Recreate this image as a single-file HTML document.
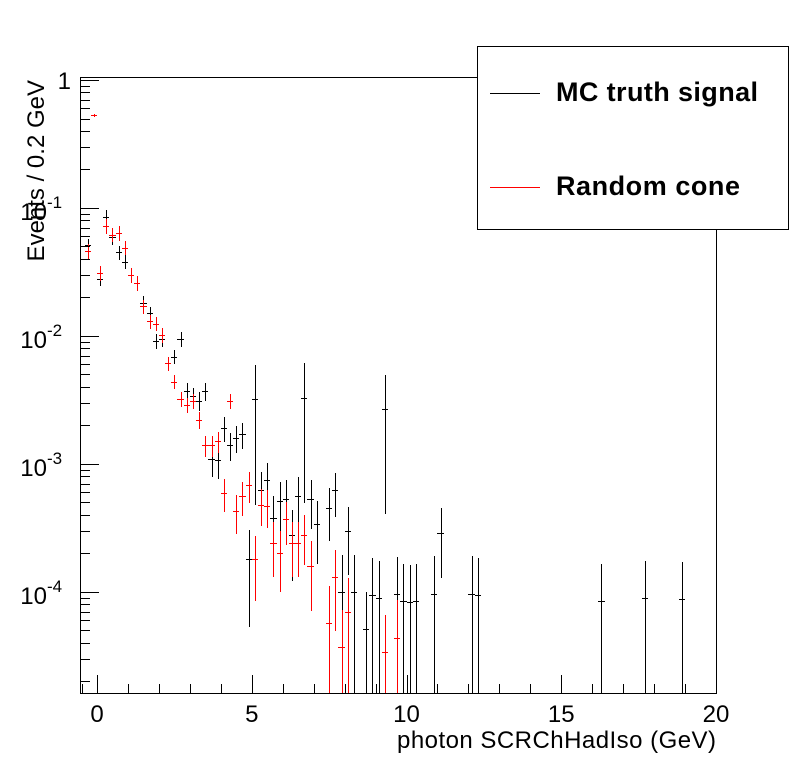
<!DOCTYPE html>
<html><head><meta charset="utf-8"><style>
html,body{margin:0;padding:0;background:#fff;}
svg{display:block;font-family:"Liberation Sans",Arial,sans-serif;}
</style></head><body>
<svg id="chart" width="796" height="772" viewBox="0 0 796 772" shape-rendering="crispEdges">
<rect x="0" y="0" width="796" height="772" fill="#fff"/>
<g id="marks"></g>
<g id="axes"></g>
<g>
<rect x="477.5" y="46.5" width="311" height="183" fill="#fff" stroke="#000" stroke-width="1"/>
<line x1="490" y1="93.5" x2="540" y2="93.5" stroke="#000" stroke-width="1"/>
<text x="556" y="101" font-size="27" font-weight="bold" textLength="202">MC truth signal</text>
<line x1="490" y1="187.5" x2="540" y2="187.5" stroke="#f00" stroke-width="1"/>
<text x="556" y="195" font-size="27" font-weight="bold" textLength="184">Random cone</text>
</g>
<text x="716" y="748" font-size="24" text-anchor="end" textLength="319">photon SCRChHadIso (GeV)</text>
<text transform="translate(44,80) rotate(-90)" font-size="24" text-anchor="end">Events / 0.2 GeV</text>
</svg>
<script>
const mcX = [-0.3,-0.1,0.1,0.3,0.5,0.7,0.9,1.1,1.3,1.5,1.7,1.9,2.1,2.3,2.5,2.7,2.9,3.1,3.3,3.5,3.7,3.9,4.1,4.3,4.5,4.7,4.9,5.1,5.3,5.5,5.7,5.9,6.1,6.3,6.5,6.7,6.9,7.1,7.5,7.7,7.9,8.1,8.3,8.7,8.9,9.1,9.3,9.7,9.9,10.1,10.3,10.9,11.1,12.1,12.3,16.3,17.7,18.9];
const mcY = [0.051,0.53,0.028,0.085,0.059,0.045,0.038,0.030,0.026,0.018,0.015,0.0091,0.0095,0.0061,0.0069,0.0095,0.0037,0.0034,0.0031,0.0037,0.0011,0.00107,0.0019,0.0014,0.0016,0.0017,0.00018,0.0032,0.00063,0.00075,0.00038,0.00051,0.00053,0.00028,0.00056,0.0033,0.00053,0.00034,0.00045,0.00062,0.0001,0.0003,0.0001,0.000051,0.000095,0.000089,0.0027,0.000096,0.000085,0.000083,0.000085,0.000097,0.00029,0.000097,0.000095,0.000085,0.000089,0.000088];
const rcX = [-0.3,-0.1,0.1,0.3,0.5,0.7,0.9,1.1,1.3,1.5,1.7,1.9,2.1,2.3,2.5,2.7,2.9,3.1,3.3,3.5,3.7,3.9,4.1,4.3,4.5,4.7,4.9,5.1,5.3,5.5,5.7,5.9,6.1,6.3,6.5,6.7,6.9,7.5,7.7,7.9,8.1,9.3,9.7];
const rcY = [0.046,0.53,0.031,0.072,0.062,0.064,0.049,0.030,0.026,0.017,0.013,0.0125,0.0102,0.0061,0.0044,0.0032,0.0029,0.0031,0.0022,0.0014,0.0014,0.0015,0.00059,0.0031,0.00043,0.00056,0.00068,0.00018,0.00048,0.00047,0.00024,0.00020,0.00037,0.00024,0.00024,0.00028,0.00016,0.000057,0.00013,0.000037,0.000070,0.000034,0.000044];
const xTicks = [0,5,10,15,20];
const xTickLabels = ["0","5","10","15","20"];
const yDecades = [-4,-3,-2,-1,0];

const NS='http://www.w3.org/2000/svg';
const X0=80,X1=716,Y0=77,Y1=693;
const xMin=-0.55,xMax=20;
const yTopLog=Math.log10(1.055),yBotLog=-4.79;
function sx(v){return X0+(v-xMin)/(xMax-xMin)*(X1-X0);}
function sy(v){const l=Math.log10(Math.max(v,1e-9));return Y0+(yTopLog-l)/(yTopLog-yBotLog)*(Y1-Y0);}
function cl(y){return Math.max(Y0,Math.min(Y1,y));}
function px(v){return Math.round(v)+0.5;}
function mk(tag,attrs,parent){const e=document.createElementNS(NS,tag);for(const k in attrs)e.setAttribute(k,attrs[k]);parent.appendChild(e);return e;}
const marks=document.getElementById('marks');
const axes=document.getElementById('axes');
function series(xs,ys,w,color,name){
  const g=mk('g',{},marks);
  
  
  const hw=0.1;
  for(let i=0;i<xs.length;i++){
    const v=ys[i];
    let rel=Math.max(0.13,Math.sqrt(w/v));
    if(v>0.3)rel=0.03;
    if(v>1e-3 && v<0.004 && xs[i]>4.9) rel=0.85;
    if(rel>0.95)rel=0.95;
    const err=v*rel;
    const cx=px(sx(xs[i]));
    const yc=px(sy(v));
    const pt=mk('g',{},g);
    
    
    const yTop=cl(sy(v+err)), yBot=cl(sy(v-err));
    if(yc>=Y0&&yc<=Y1){
      mk('line',{x1:Math.round(sx(xs[i]-hw)),x2:Math.round(sx(xs[i]+hw)),y1:yc,y2:yc,stroke:color,'stroke-width':1},pt);
    }
    mk('line',{x1:cx,x2:cx,y1:Math.round(yTop),y2:Math.round(yBot),stroke:color,'stroke-width':1},pt);
  }
}
series(mcX,mcY,9e-5,'#000','mc-truth');
series(rcX,rcY,5e-5,'#f00','random-cone');

const fr=mk('rect',{x:X0+0.5,y:Y0+0.5,width:X1-X0,height:Y1-Y0,fill:'none',stroke:'#000','stroke-width':1},axes);


for(let v=0;v<=20;v++){
  const x=px(sx(v));const L=(v%5===0)?18:9;
  mk('line',{x1:x,x2:x,y1:Y1,y2:Y1-L,stroke:'#000','stroke-width':1},axes);
}
mk('line',{x1:px(sx(-0.5)),x2:px(sx(-0.5)),y1:Y1,y2:Y1-9,stroke:'#000','stroke-width':1},axes);
for(let i=0;i<xTicks.length;i++){
  const t=mk('text',{x:sx(xTicks[i]),y:Y1+29,'font-size':24,'text-anchor':'middle'},axes);
  
  
  t.textContent=xTickLabels[i];
}
for(let d=-5;d<=0;d++){
  for(let m=1;m<=9;m++){
    const v=m*Math.pow(10,d);const y=sy(v);
    if(y<Y0-0.5||y>Y1)continue;
    const L=(m===1)?19:10;
    mk('line',{x1:X0,x2:X0+L,y1:px(y),y2:px(y),stroke:'#000','stroke-width':1},axes);
  }
}
for(const d of yDecades){
  const y=sy(Math.pow(10,d));
  const t=mk('text',{x:X0-9,y:y+9,'font-size':24,'text-anchor':'end'},axes);
  
  
  if(d===0){t.textContent='1';}
  else{
    t.setAttribute('x',X0-33);
    t.setAttribute('y',y+12);
    t.textContent='10';
    const s=mk('text',{x:X0-33,y:y,'font-size':17},axes);
    
    
    s.textContent=String(d);
  }
}
</script>
</body></html>
